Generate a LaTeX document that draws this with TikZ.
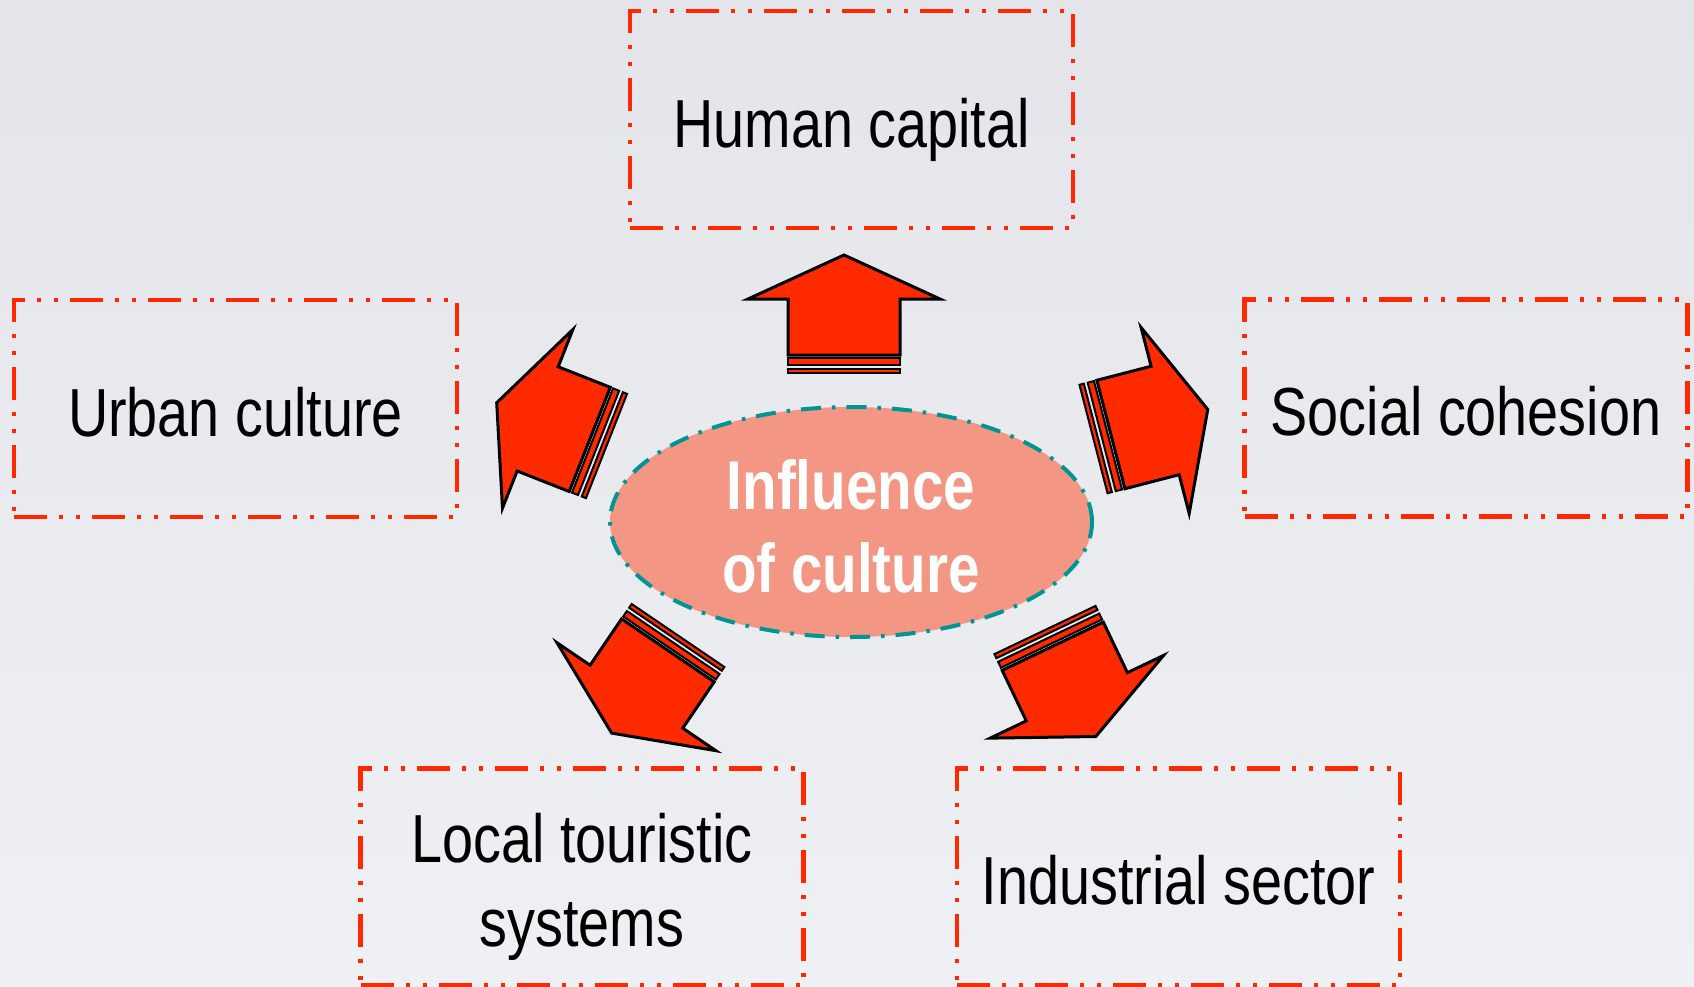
\documentclass[tikz,border=0pt]{standalone}
\usepackage{fontspec}
\setmainfont[FakeStretch=0.82]{Liberation Sans}
\usetikzlibrary{shapes.geometric}

\definecolor{bgtop}{RGB}{227,229,234}
\definecolor{bgbot}{RGB}{239,240,243}
\definecolor{boxred}{RGB}{255,40,0}
\definecolor{arrred}{RGB}{255,42,0}
\definecolor{salmon}{RGB}{244,150,132}
\definecolor{tealline}{RGB}{0,148,148}

\tikzset{
  box/.style={draw=boxred, line width=4.5pt,
    dash pattern=on 33pt off 12pt on 4pt off 13pt on 4pt off 12pt,
    minimum width=443pt, minimum height=217pt, inner sep=0pt,
    text height=55pt, text depth=0pt, align=center,
    font=\fontsize{68}{84}\selectfont},
  hub/.style={ellipse, fill=salmon, draw=tealline, line width=4pt,
    dash pattern=on 20pt off 11pt on 3.5pt off 11pt,
    minimum width=482pt, minimum height=230pt, inner sep=0pt,
    text height=140pt, text depth=0pt,
    text=white, align=center, font=\fontsize{69}{83}\selectfont\bfseries},
  stripedarrow/.pic={
    \draw[fill=arrred, line width=3pt]
      (18,-56) -- (74,-56) -- (74,-96) -- (118,0) -- (74,96) -- (74,56) -- (18,56) -- cycle;
    \draw[fill=arrred, line width=2pt] (8.5,-56) rectangle (15,56);
    \draw[fill=arrred, line width=2pt] (0,-56) rectangle (4.5,56);
  }
}

\begin{document}
\begin{tikzpicture}[x=1pt, y=-1pt]
  \useasboundingbox (0,0) rectangle (1694,986);
  \shade[top color=bgtop, bottom color=bgbot] (0,0) rectangle (1694,986);

  \node[hub] (culture) at (851,522) {Influence\\of culture};

  \node[box] (human)      at (851.5,119.5) {Human capital};
  \node[box] (urban)      at (235.5,408.5) {Urban culture};
  \node[box] (social)     at (1466,408)    {Social cohesion};
  \node[box, text height=139pt] (touristic) at (582,877) {Local touristic\\systems};
  \node[box] (industrial) at (1178.5,877)  {Industrial sector};

  \foreach \px/\py/\ang in {844/373/90, 606.5/446/158.5, 1093.5/439/14.5,
                            678/635.5/235.8, 1045/630/-64.5}
    \pic[rotate=\ang] at (\px,\py) {stripedarrow};
\end{tikzpicture}
\end{document}
